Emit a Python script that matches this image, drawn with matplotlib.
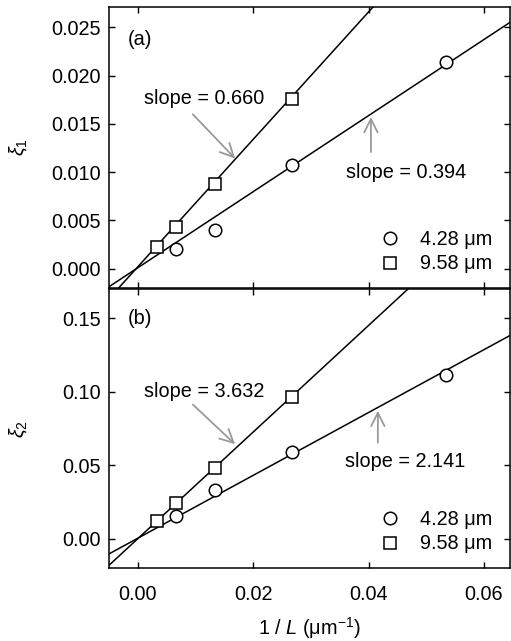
import matplotlib
matplotlib.use("Agg")
import matplotlib.pyplot as plt
import numpy as np

plt.rcParams['font.family'] = ['Liberation Sans', 'DejaVu Sans']
plt.rcParams['mathtext.fontset'] = 'custom'
plt.rcParams['mathtext.rm'] = 'Liberation Sans'
plt.rcParams['mathtext.it'] = 'Liberation Sans:italic'

# inverse length 1/L (um^-1)
x_428 = [0.00667, 0.01333, 0.02667, 0.05333]
x_958 = [0.00333, 0.00667, 0.01333, 0.02667]

# panel (a): xi_1
xi1_428 = [0.00207, 0.00403, 0.01074, 0.0214]
xi1_958 = [0.00227, 0.00434, 0.00878, 0.01756]
fit1_slope = [0.394, 0.660]
fit1_icpt = [0.0001, 0.0002]

# panel (b): xi_2
xi2_428 = [0.0155, 0.0331, 0.0588, 0.1115]
xi2_958 = [0.0122, 0.0243, 0.0480, 0.0966]
fit2_slope = [2.141, 3.632]
fit2_icpt = [0.0003, 0.0000]

labels = ["4.28 \u03bcm", "9.58 \u03bcm"]
xlim = (-0.005, 0.0645)
xticks = [0.00, 0.02, 0.04, 0.06]
yticks_a = [0.000, 0.005, 0.010, 0.015, 0.020, 0.025]
yticks_b = [0.00, 0.05, 0.10, 0.15]

fig = plt.figure(figsize=(5.11, 6.41), dpi=100)
axa = fig.add_axes([0.2133, 0.5507, 0.7847, 0.4383])
axb = fig.add_axes([0.2133, 0.1139, 0.7847, 0.4351])

FS = 14.3
gray = '#9a9a9a'

def style(ax, yticks, fmt):
    ax.set_xlim(*xlim)
    ax.set_xticks(xticks)
    ax.set_yticks(yticks)
    ax.set_yticklabels([fmt.format(v) for v in yticks])
    ax.tick_params(direction='in', length=4, width=1, top=True, right=True,
                   labelsize=FS, colors='black')
    ax.tick_params(axis='y', pad=6)
    ax.tick_params(axis='x', pad=12)
    for s in ax.spines.values():
        s.set_linewidth(1.1)

def panel(ax, y428, y958, slopes, icpts, ylim):
    xx = np.array(xlim)
    for s, b in zip(slopes, icpts):
        ax.plot(xx, s * xx + b, color='black', lw=1.1, zorder=2)
    h1, = ax.plot(x_428, y428, 'o', ms=9, mfc='white', mec='black', mew=1.1, zorder=3, label=labels[0])
    h2, = ax.plot(x_958, y958, 's', ms=8, mfc='white', mec='black', mew=1.1, zorder=3, label=labels[1])
    ax.set_ylim(*ylim)
    ax.legend(handles=[h1, h2], loc='lower right', frameon=False, fontsize=FS,
              handlelength=1.0, handletextpad=1.0, labelspacing=0.3,
              borderaxespad=0.5, bbox_to_anchor=(1.0, -0.012))

panel(axa, xi1_428, xi1_958, fit1_slope, fit1_icpt, (-0.002, 0.0271))
panel(axb, xi2_428, xi2_958, fit2_slope, fit2_icpt, (-0.02, 0.17))

style(axa, yticks_a, "{:.3f}")
style(axb, yticks_b, "{:.2f}")
axa.tick_params(labelbottom=False)

arrowprops = dict(arrowstyle='->', color=gray, lw=1.3, mutation_scale=24)

axa.text(0.047, 0.886, "(a)", transform=axa.transAxes, fontsize=FS, va='center')
axb.text(0.047, 0.896, "(b)", transform=axb.transAxes, fontsize=FS, va='center')

axa.text(0.01148, 0.01767, "slope = 0.660", fontsize=FS, ha='center', va='center')
axa.annotate("", xy=(0.0172, 0.0112), xytext=(0.0092, 0.0162), arrowprops=arrowprops)
axa.text(0.04643, 0.00992, "slope = 0.394", fontsize=FS, ha='center', va='center')
axa.annotate("", xy=(0.0404, 0.0160), xytext=(0.0404, 0.0118), arrowprops=arrowprops)

axb.text(0.01148, 0.100, "slope = 3.632", fontsize=FS, ha='center', va='center')
axb.annotate("", xy=(0.0172, 0.0630), xytext=(0.0092, 0.0926), arrowprops=arrowprops)
axb.text(0.04626, 0.0527, "slope = 2.141", fontsize=FS, ha='center', va='center')
axb.annotate("", xy=(0.0416, 0.0890), xytext=(0.0416, 0.0635), arrowprops=arrowprops)

axa.set_ylabel(r"$\xi_1$", fontsize=FS)
axb.set_ylabel(r"$\xi_2$", fontsize=FS)
axa.yaxis.set_label_coords(-0.198, 0.5)
axb.yaxis.set_label_coords(-0.198, 0.5)

axb.set_xlabel(r"1 / $\mathit{L}$ ($\mathrm{\mu m^{-1}}$)", fontsize=FS, labelpad=8)

fig.savefig("out.png", dpi=100)
